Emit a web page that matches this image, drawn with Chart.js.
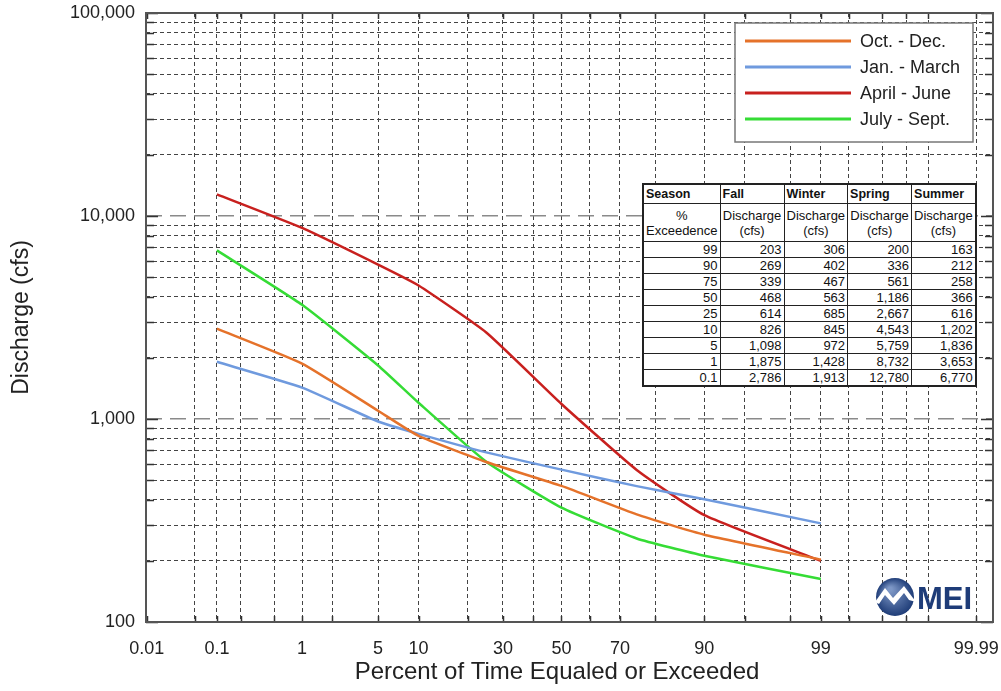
<!DOCTYPE html>
<html>
<head>
<meta charset="utf-8">
<script src="https://cdn.jsdelivr.net/npm/chart.js@4.4.1/dist/chart.umd.min.js"></script>
<style>
    body { margin: 0; background: #fff; }
    #wrap { position: relative; width: 1001px; height: 691px; }
    #flowTable {
        position: absolute; left: 642px; top: 183px;
        border-collapse: collapse; background: #fff;
        font: 13px "Liberation Sans", Arial, sans-serif; color: #111;
        border: 2px solid #222; table-layout: fixed;
    }
    #flowTable td { border: 1px solid #222; padding: 0 2px; line-height: 14px; overflow: hidden; white-space: nowrap; }
    #flowTable tr.head td { font-weight: bold; font-size: 12.5px; height: 18px; text-align: left; }
    #flowTable tr.sub td { text-align: center; height: 37px; line-height: 15px; }
    #flowTable tr.val td { text-align: right; height: 15px; }
</style>
</head>
<body>
<div id="wrap">
    <canvas id="fdcChart" width="1001" height="691"></canvas>
    <table id="flowTable"></table>
</div>
<script>
// percent of time equaled or exceeded
const pctExceeded = [0.1, 1, 5, 10, 25, 50, 75, 90, 99];

// discharge (cfs) per season
const octDec = [2786, 1875, 1098, 826, 614, 468, 339, 269, 203];
const janMar = [1913, 1428, 972, 845, 685, 563, 467, 402, 306];
const aprJun = [12780, 8732, 5759, 4543, 2667, 1186, 561, 336, 200];
const julSep = [6770, 3653, 1836, 1202, 616, 366, 258, 212, 163];

const seriesNames = ['Oct. - Dec.', 'Jan. - March', 'April - June', 'July - Sept.'];
const tableSeasons = ['Fall', 'Winter', 'Spring', 'Summer'];

// axis ticks
const xGridPct = [0.01, 0.05, 0.1, 0.2, 0.5, 1, 2, 5, 10, 20, 30, 40, 50, 60, 70, 80, 90, 95, 98, 99, 99.5, 99.8, 99.9, 99.95, 99.99];
const xLabelPct = [0.01, 0.1, 1, 5, 10, 30, 50, 70, 90, 99, 99.99];
const yDecades = [100, 1000, 10000, 100000];

// inverse normal cdf (Acklam) -> probability paper x axis
function probit(p) {
    const a = [-3.969683028665376e+01, 2.209460984245205e+02, -2.759285104469687e+02, 1.383577518672690e+02, -3.066479806614716e+01, 2.506628277459239e+00];
    const b = [-5.447609879822406e+01, 1.615858368580409e+02, -1.556989798598866e+02, 6.680131188771972e+01, -1.328068155288572e+01];
    const c = [-7.784894002430293e-03, -3.223964580411365e-01, -2.400758277161838e+00, -2.549732539343734e+00, 4.374664141464968e+00, 2.938163982698783e+00];
    const d = [7.784695709041462e-03, 3.224671290700398e-01, 2.445134137142996e+00, 3.754408661907416e+00];
    const pl = 0.02425;
    let q, r;
    if (p < pl) {
        q = Math.sqrt(-2 * Math.log(p));
        return (((((c[0]*q+c[1])*q+c[2])*q+c[3])*q+c[4])*q+c[5]) / ((((d[0]*q+d[1])*q+d[2])*q+d[3])*q+1);
    }
    if (p > 1 - pl) {
        q = Math.sqrt(-2 * Math.log(1 - p));
        return -(((((c[0]*q+c[1])*q+c[2])*q+c[3])*q+c[4])*q+c[5]) / ((((d[0]*q+d[1])*q+d[2])*q+d[3])*q+1);
    }
    q = p - 0.5; r = q * q;
    return (((((a[0]*r+a[1])*r+a[2])*r+a[3])*r+a[4])*r+a[5])*q / (((((b[0]*r+b[1])*r+b[2])*r+b[3])*r+b[4])*r+1);
}

const yMinorTicks = [];
for (let dec = 100; dec < 100000; dec *= 10) {
    for (let m = 1; m < 10; m++) yMinorTicks.push(dec * m);
}
yMinorTicks.push(100000);

const isDecade = v => yDecades.includes(v);
const fmt = v => v.toLocaleString('en-US');
const toPoints = vals => pctExceeded.map((p, i) => ({ x: probit(p / 100), y: vals[i] }));

// table with the same numbers
function buildTable() {
    const t = document.getElementById('flowTable');
    const cols = [76, 64, 63, 64, 64];
    let html = '<colgroup>' + cols.map(w => `<col style="width:${w}px">`).join('') + '</colgroup>';
    html += '<tr class="head"><td>Season</td>' + tableSeasons.map(s => `<td>${s}</td>`).join('') + '</tr>';
    html += '<tr class="sub"><td>%<br>Exceedence</td>' + tableSeasons.map(() => '<td>Discharge<br>(cfs)</td>').join('') + '</tr>';
    const all = [octDec, janMar, aprJun, julSep];
    for (let i = pctExceeded.length - 1; i >= 0; i--) {
        html += `<tr class="val"><td>${pctExceeded[i]}</td>` + all.map(s => `<td>${fmt(s[i])}</td>`).join('') + '</tr>';
    }
    t.innerHTML = html;
}
buildTable();

const frame = {
    id: 'frame',
    afterDraw(chart) {
        const { ctx, chartArea: ca, scales } = chart;
        ctx.save();
        // inner tick marks
        ctx.strokeStyle = '#333';
        ctx.lineWidth = 1.5;
        ctx.beginPath();
        scales.y.ticks.forEach(t => {
            const py = Math.round(scales.y.getPixelForValue(t.value)) + 0.5;
            const len = isDecade(t.value) ? 12 : 8;
            ctx.moveTo(ca.left, py); ctx.lineTo(ca.left + len, py);
            ctx.moveTo(ca.right, py); ctx.lineTo(ca.right - len, py);
        });
        scales.x.ticks.forEach(t => {
            const px = Math.round(scales.x.getPixelForValue(t.value)) + 0.5;
            ctx.moveTo(px, ca.top); ctx.lineTo(px, ca.top + 6);
            ctx.moveTo(px, ca.bottom); ctx.lineTo(px, ca.bottom - 6);
        });
        ctx.stroke();
        // plot border
        ctx.strokeStyle = '#555';
        ctx.lineWidth = 2;
        ctx.strokeRect(ca.left, ca.top, ca.right - ca.left, ca.bottom - ca.top);

        // x title
        ctx.fillStyle = '#222';
        ctx.font = '24px "Liberation Sans", Arial, sans-serif';
        ctx.textAlign = 'center';
        ctx.textBaseline = 'middle';
        ctx.fillText('Percent of Time Equaled or Exceeded', 557, 672);

        // legend
        const bx = ca.right - 258, by = ca.top + 10, bw = 238, bh = 119;
        ctx.fillStyle = '#fff';
        ctx.fillRect(bx, by, bw, bh);
        ctx.strokeStyle = '#777';
        ctx.lineWidth = 1.5;
        ctx.strokeRect(bx, by, bw, bh);
        ctx.font = '18px "Liberation Sans", Arial, sans-serif';
        ctx.textAlign = 'left';
        chart.data.datasets.forEach((ds, i) => {
            const ly = by + 18 + i * 26;
            ctx.strokeStyle = ds.borderColor;
            ctx.lineWidth = 3;
            ctx.beginPath();
            ctx.moveTo(bx + 10, ly); ctx.lineTo(bx + 116, ly);
            ctx.stroke();
            ctx.fillStyle = '#222';
            ctx.fillText(ds.label, bx + 125, ly + 1);
        });

        // MEI logo
        const cx = ca.right - 98, cy = ca.bottom - 25, r = 19;
        const g = ctx.createRadialGradient(cx - 5, cy - 8, 2, cx, cy, r);
        g.addColorStop(0, '#7d97c6');
        g.addColorStop(1, '#1f3d78');
        ctx.fillStyle = g;
        ctx.beginPath(); ctx.arc(cx, cy, r, 0, Math.PI * 2); ctx.fill();
        ctx.fillStyle = '#fff';
        ctx.beginPath();
        ctx.moveTo(cx - 20, cy + 5);
        ctx.lineTo(cx - 10, cy - 9);
        ctx.lineTo(cx - 2, cy + 1);
        ctx.lineTo(cx + 9, cy - 11);
        ctx.lineTo(cx + 21, cy + 5);
        ctx.lineTo(cx + 14, cy + 3);
        ctx.lineTo(cx + 9, cy - 4);
        ctx.lineTo(cx - 1, cy + 8);
        ctx.lineTo(cx - 10, cy - 2);
        ctx.lineTo(cx - 16, cy + 7);
        ctx.closePath();
        ctx.fill();
        ctx.fillStyle = '#1e3c78';
        ctx.font = 'bold 31px "Liberation Sans", Arial, sans-serif';
        ctx.textBaseline = 'alphabetic';
        ctx.fillText('MEI', cx + 22, cy + 12);
        ctx.restore();
    }
};

const lineStyle = { borderWidth: 2.5, pointRadius: 0, tension: 0.15, fill: false };

new Chart(document.getElementById('fdcChart'), {
    type: 'line',
    data: {
        datasets: [
            { label: seriesNames[0], data: toPoints(octDec), borderColor: '#e5722a', ...lineStyle },
            { label: seriesNames[1], data: toPoints(janMar), borderColor: '#6f9ade', ...lineStyle },
            { label: seriesNames[2], data: toPoints(aprJun), borderColor: '#c8201e', ...lineStyle },
            { label: seriesNames[3], data: toPoints(julSep), borderColor: '#35dc35', ...lineStyle }
        ]
    },
    options: {
        responsive: false,
        animation: false,
        layout: { padding: { top: 13, right: 8, left: 0, bottom: 0 } },
        plugins: { legend: { display: false }, tooltip: { enabled: false } },
        scales: {
            x: {
                type: 'linear',
                min: -3.726,
                max: 3.87,
                afterBuildTicks: s => { s.ticks = xGridPct.map(p => ({ value: probit(p / 100) })); },
                afterFit: s => { s.height = 69; s.paddingLeft = 0; s.paddingRight = 0; },
                ticks: {
                    autoSkip: false, maxRotation: 0, padding: 16, color: '#222',
                    font: { family: '"Liberation Sans", Arial, sans-serif', size: 18 },
                    callback: (v, i) => xLabelPct.includes(xGridPct[i]) ? String(xGridPct[i]) : ''
                },
                grid: { color: '#444', lineWidth: 1, drawTicks: false },
                border: { display: false, dash: [4, 3] }
            },
            y: {
                type: 'logarithmic',
                min: 100,
                max: 100000,
                afterBuildTicks: s => { s.ticks = yMinorTicks.map(v => ({ value: v })); },
                afterFit: s => { s.width = 146; s.paddingTop = 0; s.paddingBottom = 0; },
                ticks: {
                    autoSkip: false, padding: 11, color: '#222',
                    font: { family: '"Liberation Sans", Arial, sans-serif', size: 18 },
                    callback: v => isDecade(v) ? fmt(v) : ''
                },
                title: {
                    display: true, text: 'Discharge (cfs)', color: '#222',
                    font: { family: '"Liberation Sans", Arial, sans-serif', size: 23 },
                    padding: { top: 8, bottom: 0 }
                },
                grid: {
                    color: c => isDecade(c.tick.value) ? 'rgba(0,0,0,0)' : '#444',
                    lineWidth: 1, drawTicks: false
                },
                border: { display: false, dash: [4, 3] }
            },
            yDecade: {
                type: 'logarithmic',
                position: 'left',
                min: 100,
                max: 100000,
                afterBuildTicks: s => { s.ticks = [1000, 10000].map(v => ({ value: v })); },
                afterFit: s => { s.width = 0; s.paddingTop = 0; s.paddingBottom = 0; },
                ticks: { display: false },
                grid: { color: '#8a8a8a', lineWidth: 1.5, drawTicks: false },
                border: { display: false, dash: [16, 8] }
            }
        }
    },
    plugins: [frame]
});
</script>
</body>
</html>
